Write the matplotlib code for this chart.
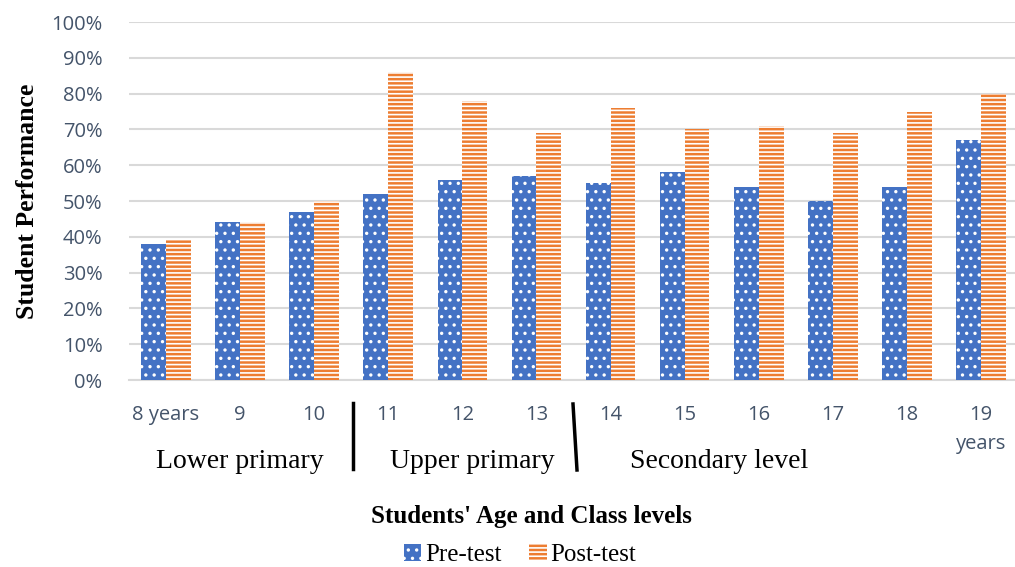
import matplotlib
matplotlib.use("Agg")
import matplotlib.pyplot as plt
import numpy as np
from matplotlib.lines import Line2D

# Data
ages = ["8 years", "9", "10", "11", "12", "13", "14", "15", "16", "17", "18", "19\nyears"]
pre_test = [38, 44, 47, 52, 56, 57, 55, 58, 54, 50, 54, 67]
post_test = [39, 44, 50, 86, 78, 69, 76, 70, 71, 69, 75, 80]
groups = ["Lower primary", "Upper primary", "Secondary level"]
yticks = list(range(0, 101, 10))

BLUE = "#4472C4"
ORANGE = "#ED7D31"
TICK_COLOR = "#44546A"
GRID = "#D9D9D9"

plt.rcParams["hatch.linewidth"] = 1.2

W, H = 1015, 567
fig = plt.figure(figsize=(W / 100, H / 100), dpi=100)
ax = fig.add_axes([129 / W, (H - 380) / H, 889 / W, 358 / H])

x = np.arange(len(ages))
bw = 0.335
b1 = ax.bar(x - bw / 2, pre_test, bw, color=BLUE, edgecolor="white",
            linewidth=0, hatch="..", label="Pre-test", zorder=3)
b2 = ax.bar(x + bw / 2, post_test, bw, color=ORANGE, edgecolor="white",
            linewidth=0, hatch="----", label="Post-test", zorder=3)

ax.set_xlim(-0.5, len(ages) - 0.5)
ax.set_ylim(0, 100)
ax.set_yticks(yticks)
ax.set_yticklabels([f"{v}%" for v in yticks])
ax.set_xticks(x)
ax.set_xticklabels(ages, va="top", linespacing=1.6)

for lab in ax.get_xticklabels() + ax.get_yticklabels():
    lab.set_fontfamily("Open Sans")
    lab.set_fontsize(14.5)
    lab.set_color(TICK_COLOR)

ax.tick_params(axis="both", length=0)
ax.tick_params(axis="x", pad=18)
ax.tick_params(axis="y", pad=19)
ax.grid(axis="y", color=GRID, linewidth=1.5, zorder=0)
for side in ["top", "right", "left"]:
    ax.spines[side].set_visible(False)
ax.spines["bottom"].set_color(GRID)
ax.spines["bottom"].set_linewidth(1.5)

# Group names and separators below the tick labels
serif = "Liberation Serif"
group_x = [240 / W, 472 / W, 719 / W]
for gx, name in zip(group_x, groups):
    fig.text(gx, 1 - 461 / H, name, ha="center", va="center",
             fontfamily=serif, fontsize=20)
fig.add_artist(Line2D([353 / W, 353 / W], [1 - 403 / H, 1 - 469 / H],
                      color="black", linewidth=2.5))
fig.add_artist(Line2D([573 / W, 577 / W], [1 - 404 / H, 1 - 470 / H],
                      color="black", linewidth=2.5))

# Axis titles
fig.text(531 / W, 1 - 517 / H, "Students' Age and Class levels", ha="center",
         va="center", fontfamily=serif, fontweight="bold", fontsize=18)
fig.text(28 / W, 1 - 201 / H, "Student Performance", ha="center", va="center",
         rotation=90, fontfamily=serif, fontweight="bold", fontsize=18.5)

# Legend
leg = fig.legend(handles=[b1, b2], loc="center", bbox_to_anchor=(520 / W, 1 - 555 / H),
                 ncol=2, frameon=False, prop={"family": serif, "size": 18},
                 handlelength=0.7, handleheight=0.7, handletextpad=0.15,
                 columnspacing=1.1)

fig.savefig("out.png", dpi=100)
